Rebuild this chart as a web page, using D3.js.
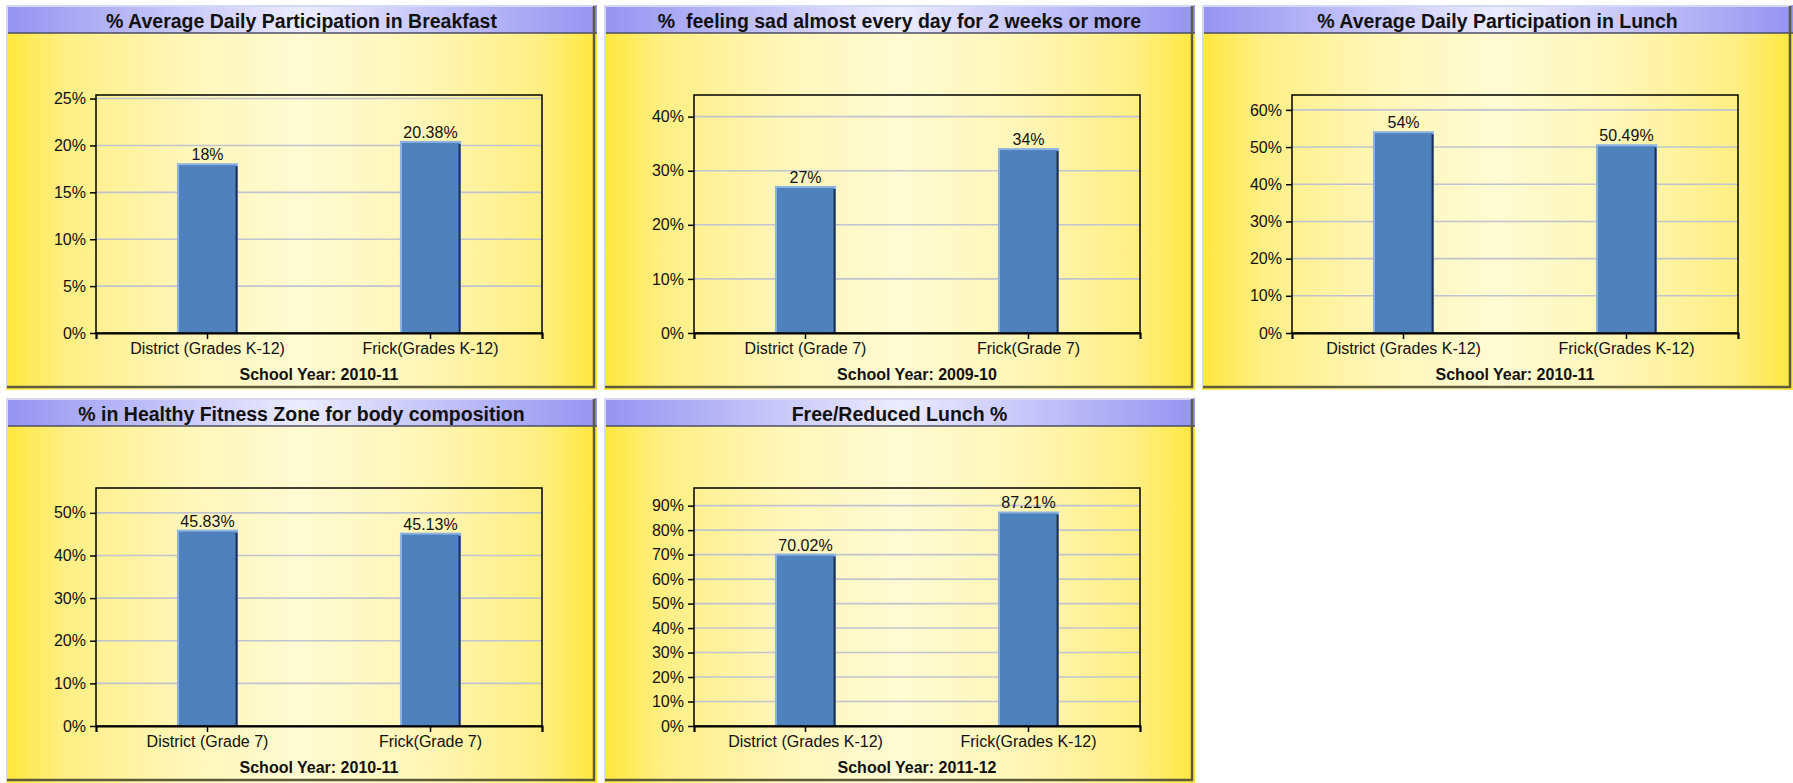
<!DOCTYPE html>
<html>
<head>
<meta charset="utf-8">
<script src="https://cdn.jsdelivr.net/npm/d3@7"></script>
<style>
  html, body { margin: 0; padding: 0; background: #ffffff; }
  svg { display: block; }
  text { font-family: "Liberation Sans", Arial, sans-serif; white-space: pre; }
</style>
</head>
<body>
<svg id="chart" width="1793" height="783"></svg>
<script>
// ---------------- DATA ----------------
const titles = [
  "% Average Daily Participation in Breakfast",
  "%  feeling sad almost every day for 2 weeks or more",
  "% Average Daily Participation in Lunch",
  "% in Healthy Fitness Zone for body composition",
  "Free/Reduced Lunch %"
];
const categories = [
  ["District (Grades K-12)", "Frick(Grades K-12)"],
  ["District (Grade 7)", "Frick(Grade 7)"],
  ["District (Grades K-12)", "Frick(Grades K-12)"],
  ["District (Grade 7)", "Frick(Grade 7)"],
  ["District (Grades K-12)", "Frick(Grades K-12)"]
];
const values = [
  [18, 20.38],
  [27, 34],
  [54, 50.49],
  [45.83, 45.13],
  [70.02, 87.21]
];
const valueLabels = [
  ["18%", "20.38%"],
  ["27%", "34%"],
  ["54%", "50.49%"],
  ["45.83%", "45.13%"],
  ["70.02%", "87.21%"]
];
const yTicks = [
  [0, 5, 10, 15, 20, 25],
  [0, 10, 20, 30, 40],
  [0, 10, 20, 30, 40, 50, 60],
  [0, 10, 20, 30, 40, 50],
  [0, 10, 20, 30, 40, 50, 60, 70, 80, 90]
];
const yMax = [25.38, 44, 64, 55.83, 97.21];
const schoolYears = [
  "School Year: 2010-11",
  "School Year: 2009-10",
  "School Year: 2010-11",
  "School Year: 2010-11",
  "School Year: 2011-12"
];

// ---------------- LAYOUT ----------------
const colX = [6, 604, 1202];
const rowY = [5, 398];
const PW = 591, PH = 385, TH = 28;
const plot = { left: 90, top: 90, width: 446, height: 238 };

const svg = d3.select("#chart");
const defs = svg.append("defs");

const bodyGrad = defs.append("linearGradient").attr("id", "bodyGrad")
  .attr("x1", "0%").attr("x2", "100%").attr("y1", "0%").attr("y2", "0%");
[[0, "#FFE73C"], [0.1, "#FFEF84"], [0.3, "#FFF6B8"], [0.5, "#FFFAD2"],
 [0.7, "#FFF6B8"], [0.9, "#FFEF84"], [1, "#FFE73C"]].forEach(([o, c]) =>
  bodyGrad.append("stop").attr("offset", o).attr("stop-color", c));

const titleGrad = defs.append("linearGradient").attr("id", "titleGrad")
  .attr("x1", "0%").attr("x2", "100%").attr("y1", "0%").attr("y2", "0%");
[[0, "#9494F2"], [0.5, "#ECECFF"], [1, "#9494F2"]].forEach(([o, c]) =>
  titleGrad.append("stop").attr("offset", o).attr("stop-color", c));

titles.forEach((title, i) => {
  const px = colX[i % 3], py = rowY[Math.floor(i / 3)];
  const g = svg.append("g").attr("transform", `translate(${px},${py})`);

  // panel body
  g.append("rect").attr("x", 0).attr("y", 0).attr("width", PW).attr("height", PH)
    .attr("fill", "url(#bodyGrad)");
  // title bar
  g.append("rect").attr("x", 0).attr("y", 0).attr("width", PW).attr("height", TH)
    .attr("fill", "url(#titleGrad)");
  g.append("line").attr("x1", 0).attr("x2", PW).attr("y1", TH).attr("y2", TH)
    .attr("stroke", "#4c4c66").attr("stroke-width", 1.5);
  // light top/left border
  g.append("path").attr("d", `M1,${PH - 2} L1,1 L${PW - 2},1`)
    .attr("fill", "none").attr("stroke", "#D6D6F6").attr("stroke-width", 2);
  // dark right/bottom border
  g.append("path").attr("d", `M${PW - 3},1 L${PW - 3},${PH - 3} L1,${PH - 3}`)
    .attr("fill", "none").attr("stroke", "#5E5B3C").attr("stroke-width", 2.5);

  g.append("text").attr("x", PW / 2).attr("y", 23)
    .attr("text-anchor", "middle").attr("font-weight", "bold")
    .attr("font-size", "19.5px").attr("fill", "#111")
    .attr("xml:space", "preserve").text(title);

  // plot
  const pg = g.append("g").attr("transform", `translate(${plot.left},${plot.top})`);
  const x = d3.scaleBand().domain(categories[i]).range([0, plot.width])
    .paddingInner(0.735).paddingOuter(0.3675);
  const y = d3.scaleLinear().domain([0, yMax[i]]).range([plot.height, 0]);

  // gridlines
  pg.selectAll("line.grid").data(yTicks[i].filter(t => t > 0)).enter()
    .append("line").attr("class", "grid")
    .attr("x1", 0).attr("x2", plot.width)
    .attr("y1", d => y(d)).attr("y2", d => y(d))
    .attr("stroke", "#C0C4D0").attr("stroke-width", 1.6);

  // bars
  const data = values[i].map((v, k) => ({ cat: categories[i][k], v, label: valueLabels[i][k] }));
  const bars = pg.selectAll("g.bar").data(data).enter().append("g").attr("class", "bar");
  bars.append("rect")
    .attr("x", d => x(d.cat)).attr("y", d => y(d.v))
    .attr("width", x.bandwidth()).attr("height", d => plot.height - y(d.v))
    .attr("fill", "#4F81BD").attr("stroke", "#8DB3E2").attr("stroke-width", 2);
  bars.append("line")
    .attr("x1", d => x(d.cat) + x.bandwidth() - 0.5).attr("x2", d => x(d.cat) + x.bandwidth() - 0.5)
    .attr("y1", d => y(d.v) + 2).attr("y2", plot.height)
    .attr("stroke", "#1E2E4C").attr("stroke-width", 2);
  bars.append("text")
    .attr("x", d => x(d.cat) + x.bandwidth() / 2).attr("y", d => y(d.v) - 4)
    .attr("text-anchor", "middle").attr("font-size", "16px").attr("fill", "#111")
    .text(d => d.label);

  // frame
  pg.append("rect").attr("x", 0).attr("y", 0).attr("width", plot.width).attr("height", plot.height)
    .attr("fill", "none").attr("stroke", "#000").attr("stroke-width", 1.5);

  // y axis
  const yAxis = d3.axisLeft(y).tickValues(yTicks[i]).tickFormat(d => d + "%")
    .tickSize(6).tickPadding(4);
  const ya = pg.append("g").call(yAxis);
  ya.select(".domain").remove();
  ya.selectAll(".tick line").attr("stroke", "#000").attr("stroke-width", 1.5);
  ya.selectAll(".tick text").attr("font-size", "16px").attr("fill", "#111")
    .attr("font-family", "Liberation Sans, Arial, sans-serif");

  // x axis
  const xAxis = d3.axisBottom(x).tickSize(6).tickPadding(4);
  const xa = pg.append("g").attr("transform", `translate(0,${plot.height})`).call(xAxis);
  xa.select(".domain").attr("stroke", "#000").attr("stroke-width", 2.2);
  xa.selectAll(".tick line").attr("stroke", "#000").attr("stroke-width", 1.5);
  xa.selectAll(".tick text").attr("font-size", "16px").attr("fill", "#111")
    .attr("font-family", "Liberation Sans, Arial, sans-serif");

  // school year label
  pg.append("text").attr("x", plot.width / 2).attr("y", plot.height + 47)
    .attr("text-anchor", "middle").attr("font-weight", "bold").attr("font-size", "16px")
    .attr("fill", "#111").text(schoolYears[i]);
});
</script>
</body>
</html>
